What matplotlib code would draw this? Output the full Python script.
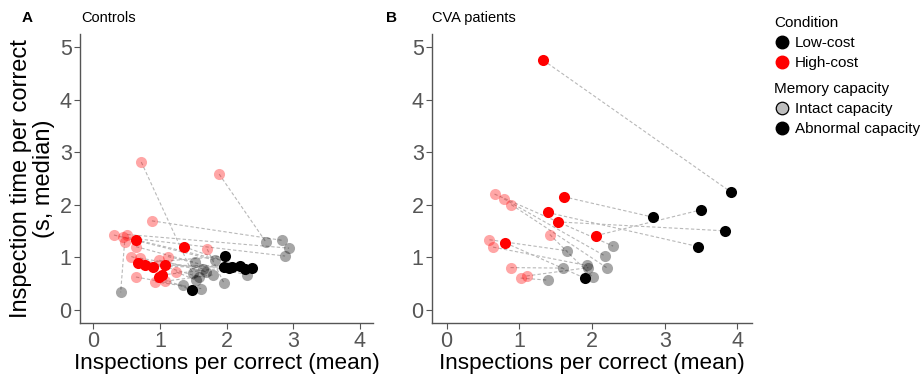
import matplotlib
matplotlib.use("Agg")
import matplotlib.pyplot as plt
from matplotlib.lines import Line2D

plt.rcParams.update({
    "font.family": ["Liberation Sans", "DejaVu Sans"],
    "figure.facecolor": "white",
    "axes.facecolor": "white",
})

# Controls: each participant has a high-cost and a low-cost point
ctrl_high_x = [0.72, 1.89, 0.88, 0.31, 0.51, 0.47, 0.64, 1.71, 0.57, 1.12, 0.99,
               0.64, 0.93, 1.08, 1.24, 0.44, 0.70,
               0.64, 1.36, 0.67, 0.77, 0.89, 1.08, 0.98, 1.03]
ctrl_high_y = [2.81, 2.58, 1.69, 1.42, 1.43, 1.29, 1.20, 1.15, 1.01, 1.01, 0.94,
               0.62, 0.53, 0.54, 0.72, 1.38, 0.98,
               1.33, 1.20, 0.88, 0.85, 0.82, 0.85, 0.62, 0.66]
ctrl_low_x = [1.49, 2.59, 2.83, 1.83, 2.94, 0.41, 1.52, 1.96, 1.59, 2.31, 1.69,
              1.34, 1.62, 1.79, 1.54, 2.88, 1.64,
              2.38, 2.28, 1.98, 2.20, 2.09, 1.96, 1.48, 2.03]
ctrl_low_y = [0.69, 1.29, 1.32, 0.94, 1.17, 0.33, 0.90, 0.51, 0.62, 0.66, 0.72,
              0.46, 0.40, 0.66, 0.56, 1.02, 0.78,
              0.80, 0.78, 1.02, 0.83, 0.81, 0.81, 0.37, 0.80]
ctrl_abnormal = [False] * 17 + [True] * 8

# CVA patients
cva_high_x = [0.66, 0.79, 0.89, 1.42, 0.59, 0.64, 0.88, 1.02, 1.10,
              1.33, 1.61, 1.39, 1.53, 2.06, 0.81]
cva_high_y = [2.20, 2.11, 2.00, 1.43, 1.33, 1.19, 0.80, 0.60, 0.64,
              4.75, 2.15, 1.85, 1.67, 1.41, 1.27]
cva_low_x = [2.29, 2.18, 2.20, 2.01, 1.66, 1.93, 1.60, 1.40, 1.95,
             3.91, 2.84, 3.46, 3.83, 3.50, 1.90]
cva_low_y = [1.21, 1.02, 0.80, 0.62, 1.12, 0.84, 0.79, 0.56, 0.80,
             2.24, 1.76, 1.20, 1.50, 1.90, 0.60]
cva_abnormal = [False] * 9 + [True] * 6

INTACT_ALPHA = 0.35
MS = 64


def panel(ax, hx, hy, lx, ly, abnormal):
    for i in range(len(hx)):
        ax.plot([hx[i], lx[i]], [hy[i], ly[i]], ls=(0, (3, 2)), lw=0.8,
                color="#b8b8b8", zorder=1)
    for i in range(len(hx)):
        a = 1.0 if abnormal[i] else INTACT_ALPHA
        ax.scatter(lx[i], ly[i], s=MS, color="black", alpha=a, lw=0, zorder=2)
        ax.scatter(hx[i], hy[i], s=MS, color="red", alpha=a, lw=0, zorder=2)
    ax.set_xlim(-0.2, 4.2)
    ax.set_ylim(-0.25, 5.25)
    ax.set_xticks([0, 1, 2, 3, 4])
    ax.set_yticks([0, 1, 2, 3, 4, 5])
    for s in ["top", "right"]:
        ax.spines[s].set_visible(False)
    for s in ["left", "bottom"]:
        ax.spines[s].set_color("#555555")
        ax.spines[s].set_linewidth(1.0)
    ax.tick_params(colors="#555555", labelsize=15.5, length=4, width=0.8,
                   labelcolor="#555555", pad=2)
    ax.set_xlabel("Inspections per correct (mean)", fontsize=16.2, labelpad=1)


fig = plt.figure(figsize=(9.23, 3.78), dpi=100)
axA = fig.add_axes([0.0867, 0.1463, 0.3174, 0.7638])
axB = fig.add_axes([0.468, 0.1463, 0.3467, 0.7638])

panel(axA, ctrl_high_x, ctrl_high_y, ctrl_low_x, ctrl_low_y, ctrl_abnormal)
panel(axB, cva_high_x, cva_high_y, cva_low_x, cva_low_y, cva_abnormal)
axA.set_ylabel("Inspection time per correct\n(s, median)", fontsize=17,
               labelpad=3, linespacing=1.1)

fig.text(22 / 923, 1 - 18 / 378, "A", fontsize=11, fontweight="bold", va="center")
fig.text(81 / 923, 1 - 18 / 378, "Controls", fontsize=10.5, va="center")
fig.text(386 / 923, 1 - 18 / 378, "B", fontsize=11, fontweight="bold", va="center")
fig.text(432 / 923, 1 - 18 / 378, "CVA patients", fontsize=10.5, va="center")

cond = [Line2D([], [], ls="", marker="o", ms=9, mfc="black", mec="black"),
        Line2D([], [], ls="", marker="o", ms=9, mfc="red", mec="red")]
mem = [Line2D([], [], ls="", marker="o", ms=9, mfc="#bdbdbd", mec="black", mew=0.9),
       Line2D([], [], ls="", marker="o", ms=9, mfc="black", mec="black")]
kw = dict(frameon=False, fontsize=11, title_fontsize=11, handletextpad=0.35,
          handlelength=1.0, labelspacing=0.4, borderaxespad=0, alignment="left")
l1 = fig.legend(cond, ["Low-cost", "High-cost"], title="Condition",
                loc="upper left", bbox_to_anchor=(768 / 923, 1 - 10 / 378), **kw)
l2 = fig.legend(mem, ["Intact capacity", "Abnormal capacity"], title="Memory capacity",
                loc="upper left", bbox_to_anchor=(768 / 923, 1 - 76 / 378), **kw)

fig.savefig("out.png", dpi=100)
